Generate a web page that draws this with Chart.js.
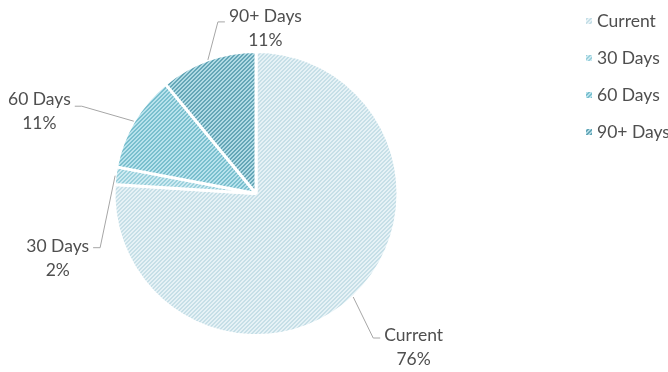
<!DOCTYPE html>
<html>
<head>
<meta charset="utf-8">
<script src="https://cdn.jsdelivr.net/npm/chart.js@4.4.1/dist/chart.umd.min.js"></script>
<style>
  body { margin: 0; background: #fff; }
  #wrap { width: 668px; height: 372px; }
</style>
</head>
<body>
<div id="wrap"><canvas id="chart" width="668" height="372"></canvas></div>
<script>
const categories = ['Current', '30 Days', '60 Days', '90+ Days'];
const shares = [76, 2, 11, 11];

// hatch colours: base + stripe per slice
const baseColors = ['#e6f2f6', '#cdeaf1', '#b8e2ec', '#b0dae4'];
const stripeColors = ['#c6dfe7', '#9ad0dc', '#7abfce', '#65a6b7'];

// leader line elbow (from slice edge) and text shift for each label
const leaderElbows = [[20, 41], [-15, 72], [-52, -15], [10, -38]];
const textShift = [-3, -1, -7, -6];

const FONT = '17.5px Lato';
const TEXT_COLOR = '#4f4f4f';

// small diagonal hatch tile
const makeHatch = (base, stripe) => {
  const tile = document.createElement('canvas');
  tile.width = 4;
  tile.height = 4;
  const c = tile.getContext('2d');
  for (let x = 0; x < 4; x++) {
    for (let y = 0; y < 4; y++) {
      c.fillStyle = (x + y) % 4 < 2 ? stripe : base;
      c.fillRect(x, y, 1, 1);
    }
  }
  return c.createPattern(tile, 'repeat');
};

const hatches = baseColors.map((b, i) => makeHatch(b, stripeColors[i]));

// labels outside the pie with leader lines
const sliceLabels = {
  id: 'sliceLabels',
  afterDatasetsDraw(chart) {
    const ctx = chart.ctx;
    const meta = chart.getDatasetMeta(0);
    ctx.save();
    ctx.font = FONT;
    meta.data.forEach((arc, i) => {
      const {x, y, startAngle, endAngle, outerRadius} =
        arc.getProps(['x', 'y', 'startAngle', 'endAngle', 'outerRadius'], true);
      const mid = (startAngle + endAngle) / 2;
      const ex = x + Math.cos(mid) * outerRadius;
      const ey = y + Math.sin(mid) * outerRadius;
      const [dx, dy] = leaderElbows[i];
      const side = dx >= 0 ? 1 : -1;
      const bx = ex + dx;
      const by = ey + dy;
      const tx = bx + side * 7;

      ctx.strokeStyle = '#a6a6a6';
      ctx.lineWidth = 1;
      ctx.beginPath();
      ctx.moveTo(ex, ey);
      ctx.lineTo(bx, by);
      ctx.lineTo(tx, by);
      ctx.stroke();

      const lines = [categories[i], shares[i] + '%'];
      const w = Math.max(...lines.map((t) => ctx.measureText(t).width));
      const cx = side > 0 ? tx + 4 + w / 2 : tx - 4 - w / 2;
      ctx.fillStyle = TEXT_COLOR;
      ctx.textAlign = 'center';
      ctx.textBaseline = 'middle';
      lines.forEach((t, k) => ctx.fillText(t, cx, by + textShift[i] + k * 24));
    });
    ctx.restore();
  }
};

// legend column on the right
const sideLegend = {
  id: 'sideLegend',
  afterDraw(chart) {
    const ctx = chart.ctx;
    const ds = chart.data.datasets[0];
    ctx.save();
    ctx.font = FONT;
    ctx.textAlign = 'left';
    ctx.textBaseline = 'middle';
    chart.data.labels.forEach((label, i) => {
      const y = 21 + i * 37;
      ctx.fillStyle = ds.backgroundColor[i];
      ctx.fillRect(586, y - 3, 6, 6);
      ctx.fillStyle = TEXT_COLOR;
      ctx.fillText(label, 597, y);
    });
    ctx.restore();
  }
};

new Chart(document.querySelector('#chart'), {
  type: 'pie',
  data: {
    labels: categories,
    datasets: [{
      data: shares,
      backgroundColor: hatches,
      borderColor: '#ffffff',
      borderWidth: 3,
      radius: 142,
      hoverOffset: 0
    }]
  },
  options: {
    responsive: false,
    animation: false,
    events: [],
    layout: { padding: { left: 0, right: 156, top: 15, bottom: 0 } },
    plugins: {
      legend: { display: false },
      tooltip: { enabled: false }
    }
  },
  plugins: [sliceLabels, sideLegend]
});
</script>
</body>
</html>
